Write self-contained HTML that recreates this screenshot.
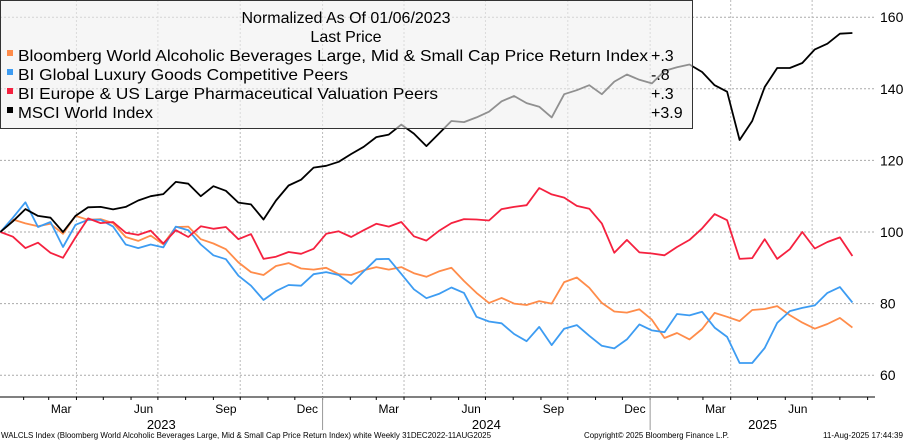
<!DOCTYPE html>
<html><head><meta charset="utf-8"><style>
html,body{margin:0;padding:0;background:#fff;}
svg{display:block;font-family:"Liberation Sans",sans-serif;}
</style></head><body>
<svg id="chart" width="904" height="440" viewBox="0 0 904 440" xmlns="http://www.w3.org/2000/svg">
<g id="grid"></g>
<g id="series"></g>
<g id="legend">
<rect x="0.5" y="0.5" width="692" height="128" fill="rgba(240,240,240,0.6)" stroke="#333" stroke-width="1"/>
<text x="346" y="23" font-size="16" text-anchor="middle" fill="#000">Normalized As Of 01/06/2023</text>
<text x="346" y="42" font-size="16" text-anchor="middle" fill="#000">Last Price</text>
<rect x="7" y="50" width="6" height="6" fill="#ff8c4a"/>
<text x="18" y="61" font-size="16" textLength="630" lengthAdjust="spacingAndGlyphs">Bloomberg World Alcoholic Beverages Large, Mid &amp; Small Cap Price Return Index</text>
<text x="651" y="61" font-size="16">+.3</text>
<rect x="7" y="69" width="6" height="6" fill="#3d9cf2"/>
<text x="18" y="80" font-size="16" textLength="330" lengthAdjust="spacingAndGlyphs">BI Global Luxury Goods Competitive Peers</text>
<text x="651" y="80" font-size="16">-.8</text>
<rect x="7" y="88" width="6" height="6" fill="#f5213f"/>
<text x="18" y="99" font-size="16" textLength="420" lengthAdjust="spacingAndGlyphs">BI Europe &amp; US Large Pharmaceutical Valuation Peers</text>
<text x="651" y="99" font-size="16">+.3</text>
<rect x="7" y="107" width="6" height="6" fill="#000"/>
<text x="18" y="118" font-size="16" textLength="135" lengthAdjust="spacingAndGlyphs">MSCI World Index</text>
<text x="651" y="118" font-size="16">+3.9</text>
</g>
<g id="axes"></g>
<text x="1" y="438" font-size="8.5" fill="#000" textLength="490" lengthAdjust="spacingAndGlyphs">WALCLS Index (Bloomberg World Alcoholic Beverages Large, Mid &amp; Small Cap Price Return Index) white  Weekly 31DEC2022-11AUG2025</text>
<text x="584" y="438" font-size="8.5" fill="#000" textLength="145" lengthAdjust="spacingAndGlyphs">Copyright© 2025 Bloomberg Finance L.P.</text>
<text x="823" y="438" font-size="8.5" fill="#000" textLength="80" lengthAdjust="spacingAndGlyphs">11-Aug-2025 17:44:39</text>
</svg>
<script>
const startDay = 6; // Jan 6 2023, days after Dec 31 2022
const stepDays = 14;
const alcoholic = [100,103.5,102.4,101.6,102.3,99.5,104.5,103.4,103.6,102.5,98.6,97.5,99,96.6,101.4,101.5,98,96.8,95.2,91.5,88.8,88,90.5,91.3,89.8,89.5,90,88.2,88,89.3,90.2,89.5,90.2,88.5,87.5,89,90,86.3,83,80.2,81.6,80,79.6,80.7,80,86,87.3,84.4,80.2,77.8,77.5,78.4,75.5,70.4,71.8,70,72.9,77.4,76.3,75.1,78.2,78.5,79.3,76.8,74.7,73,74.3,76,73.3];
const luxury = [100,104,108.3,101.4,102.8,95.8,102,103.4,103.4,101.5,96.5,95.5,96.5,95.7,101.5,100.5,96.5,93.5,92.4,87.8,85,81,83.5,85.2,85,88.2,88.8,88,85.5,89,92.4,92.5,88.3,84,81.5,82.7,84.5,83,76.3,75,74.5,71.5,69.5,73.5,68.4,73,74,71,68.2,67.5,70,74.2,72.5,72,77.1,76.7,77.7,73.3,70.7,63.4,63.4,67.6,74.6,77.9,78.8,79.5,83,84.6,80.3];
const pharma = [100,98.7,95.5,97,94.2,92.8,98.5,103.8,102.5,102.8,99.8,99.2,100.4,96.8,100.5,98.6,101.6,100.9,101.4,98,99.4,92.5,93.1,94.4,93.9,95.3,99.5,100.2,98.6,100.5,102.3,101.5,102.8,98.8,97.6,100.3,102.5,103.6,103.5,103.2,106.4,107,107.5,112.3,110.5,109.6,107.3,106.5,102.4,94.2,97.8,94.3,94,93.5,95.8,97.8,101,105,103.3,92.5,92.7,98,92.5,95.2,100,95.4,97.2,98.5,93.3];
const msci = [100,103,106.4,104.5,104,100,104.5,106.9,107,106.3,107,108.8,110,110.6,114,113.5,110,112.8,111.5,108.2,107.7,103.5,108.8,113,114.6,118,118.5,119.6,121.8,123.8,126.5,127.2,130,127.5,124,127.5,131,130.7,132,133.6,136.5,138,136,135,132,138.5,139.6,141,138.5,142,144,142.5,141.5,145,146,146.8,144.7,141,139.2,125.7,131,140.5,145.8,145.8,147.2,151,152.6,155.4,155.6];
const yTicks = [60,80,100,120,140,160];
const monthLabels = ["Mar","Jun","Sep","Dec","Mar","Jun","Sep","Dec","Mar","Jun"];
const monthLabelDays = [74,166,258,349,440,532,624,715,805,897];
const yearLabels = ["2023","2024","2025"];
const yearStartDays = [0,366,732];
const gridDays = [91,182,274,366,457,548,640,732,822,913];

const NS="http://www.w3.org/2000/svg";
function xs(day){return -5+0.895*day;}
function ys(v){return 232-(v-100)*3.58;}
function mk(tag,attrs,parent){const e=document.createElementNS(NS,tag);for(const k in attrs)e.setAttribute(k,attrs[k]);parent.appendChild(e);return e;}
const grid=document.getElementById('grid'), axes=document.getElementById('axes'), series=document.getElementById('series');
const R=875, B=397;
yTicks.forEach(v=>{
  const l=mk('line',{x1:0,x2:R,y1:ys(v),y2:ys(v),stroke:'#aaa','stroke-width':1,'stroke-dasharray':'2,2'},grid);
  
  
  const t=mk('text',{x:880,y:ys(v)+5,'font-size':14,fill:'#000'},axes);
  t.textContent=v;
  
  
});
gridDays.forEach(d=>{
  const l=mk('line',{x1:xs(d),x2:xs(d),y1:0,y2:B,stroke:'#bbb','stroke-width':1,'stroke-dasharray':'2,2'},grid);
  
  
});
const ax=mk('line',{x1:0,x2:R,y1:B,y2:B,stroke:'#000','stroke-width':1},axes);


const monthStarts=[];
for(let y=2023;y<=2025;y++)for(let m=0;m<12;m++){const d=(Date.UTC(y,m,1)-Date.UTC(2022,11,31))/86400000;if(xs(d)>0&&xs(d)<R)monthStarts.push(d);}
monthStarts.forEach(d=>{
  const t=mk('line',{x1:xs(d),x2:xs(d),y1:B,y2:B+3,stroke:'#000','stroke-width':1},axes);
  
  
});
monthLabels.forEach((m,i)=>{
  const t=mk('text',{x:xs(monthLabelDays[i]),y:413,'font-size':12,'text-anchor':'middle',fill:'#000'},axes);
  t.textContent=m;
  
  
});
yearLabels.forEach((y,i)=>{
  const s=xs(yearStartDays[i]), e=i<2?xs(yearStartDays[i+1]):R;
  const t=mk('text',{x:(Math.max(0,s)+e)/2,y:429,'font-size':13,'text-anchor':'middle',fill:'#000'},axes);
  t.textContent=y;
  
  
  if(i>0){const l=mk('line',{x1:s,x2:s,y1:B,y2:430,stroke:'#999','stroke-width':1},axes);
    
    }
});
function draw(arr,color,name){
  const pts=arr.map((v,i)=>xs(startDay+stepDays*i).toFixed(1)+','+ys(v).toFixed(1)).join(' ');
  const p=mk('polyline',{points:pts,fill:'none',stroke:color,'stroke-width':1.8,'stroke-linejoin':'round'},series);
  
  
}
draw(alcoholic,'#ff8c4a','line-alcoholic-beverages');
draw(luxury,'#3d9cf2','line-luxury-goods');
draw(pharma,'#f5213f','line-pharmaceutical');
draw(msci,'#000','line-msci-world');
</script>
</body></html>
